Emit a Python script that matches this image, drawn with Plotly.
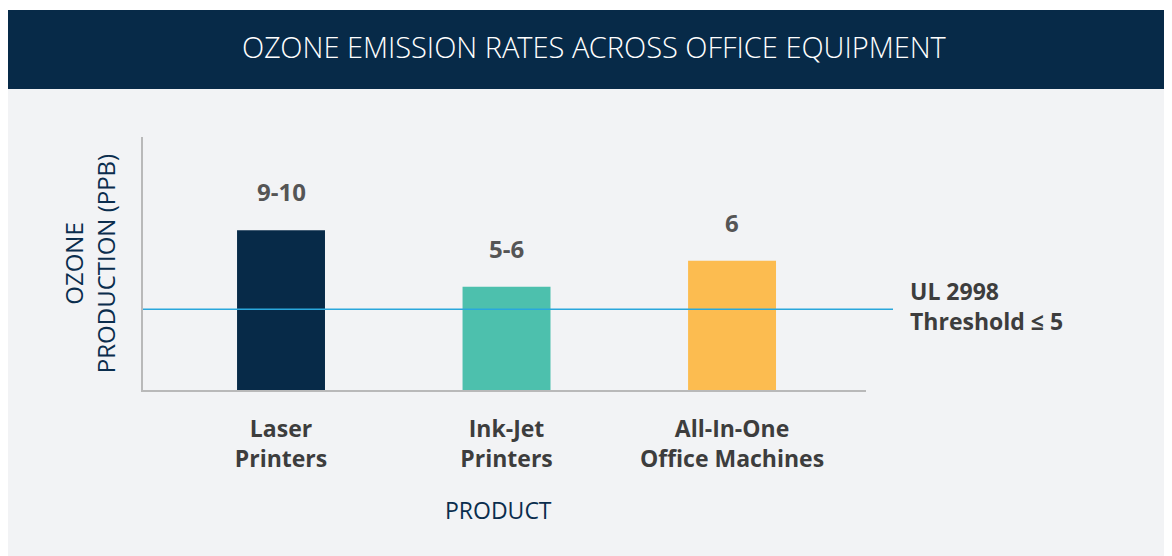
import plotly.graph_objects as go

# ---- data ----
categories = ["Laser<br>Printers", "Ink-Jet<br>Printers", "All-In-One<br>Office Machines"]
ozone_values = [9.9, 6.4, 8.0]          # bar heights as drawn (ppb scale)
value_labels = ["9-10", "5-6", "6"]     # printed labels
bar_colors = ["#072a48", "#4dc0ad", "#fcbc50"]
threshold_value = 5
threshold_label = "UL 2998<br>Threshold ≤ 5"
title_text = "OZONE EMISSION RATES ACROSS OFFICE EQUIPMENT"
y_title = "OZONE<br>PRODUCTION (PPB)"
x_title = "PRODUCT"

OFF = 8  # page body margin
W, H = 1172 - OFF, 556 - OFF
L, R, T, B = 143 - OFF, 306, 137 - OFF, 166
pw, ph = W - L - R, H - T - B

def px_x(x):
    return (x - OFF - L) / pw

def px_y(y):
    return (H - B - (y - OFF)) / ph

FONT = "Open Sans, Noto Sans, sans-serif"
LIGHT = "Open Sans Light, Open Sans, Noto Sans, sans-serif"
NAVY = "#072a48"

fig = go.Figure()
fig.add_trace(go.Bar(
    x=categories, y=ozone_values, marker_color=bar_colors, width=0.39,
    marker_line_width=0, hoverinfo="skip", showlegend=False,
))

# value labels above bars
for c, v, lab in zip(categories, ozone_values, value_labels):
    fig.add_annotation(x=c, y=v, text=lab, showarrow=False, yanchor="bottom",
                       yshift=20, font=dict(family=FONT, size=24, color="#555555", weight="bold"))

# backgrounds
fig.add_shape(type="rect", xref="paper", yref="paper", x0=px_x(5), x1=px_x(1180), y0=px_y(570), y1=px_y(89),
              fillcolor="#f2f3f5", line_width=0, layer="below")
fig.add_shape(type="rect", xref="paper", yref="paper", x0=px_x(5), x1=px_x(1180), y0=px_y(89), y1=px_y(10),
              fillcolor=NAVY, line_width=0, layer="below")

# threshold line
fig.add_shape(type="line", xref="paper", yref="y", x0=0, x1=px_x(893), y0=threshold_value, y1=threshold_value,
              line=dict(color="#2aa7dc", width=1.5), layer="above")
fig.add_annotation(xref="paper", yref="y", x=px_x(908), y=threshold_value, text=threshold_label,
                   showarrow=False, xanchor="left", yanchor="middle", align="left", yshift=3,
                   font=dict(family=FONT, size=23, color="#3d3d3d", weight="bold"))

# title
fig.add_annotation(xref="paper", yref="paper", x=px_x(594), y=px_y(46), text=title_text, showarrow=False,
                   xanchor="center", yanchor="middle",
                   font=dict(family=LIGHT, size=29, color="#ffffff", weight=300))

# x-axis title
fig.add_annotation(xref="paper", yref="paper", x=px_x(498), y=px_y(510), text=x_title, showarrow=False,
                   xanchor="center", yanchor="middle",
                   font=dict(family=FONT, size=23, color="#0a2d4d"))

fig.update_layout(
    width=W, height=H,
    margin=dict(l=L, r=R, t=T, b=B, pad=0),
    paper_bgcolor="#ffffff", plot_bgcolor="rgba(0,0,0,0)",
    xaxis=dict(range=[-0.612, 2.594], showline=True, linecolor="#b9b9b9", linewidth=2,
               showgrid=False, zeroline=False, ticks="", ticklabelstandoff=17,
               tickfont=dict(family=FONT, size=23, color="#3d3d3d", weight="bold")),
    yaxis=dict(range=[0, 15.67], showline=True, linecolor="#b9b9b9", linewidth=2,
               showgrid=False, zeroline=False, showticklabels=False, ticks="",
               title=dict(text=y_title, standoff=19,
                          font=dict(family=FONT, size=24, color="#0a2d4d"))),
    font=dict(family=FONT),
)

fig.write_html("out.html")
